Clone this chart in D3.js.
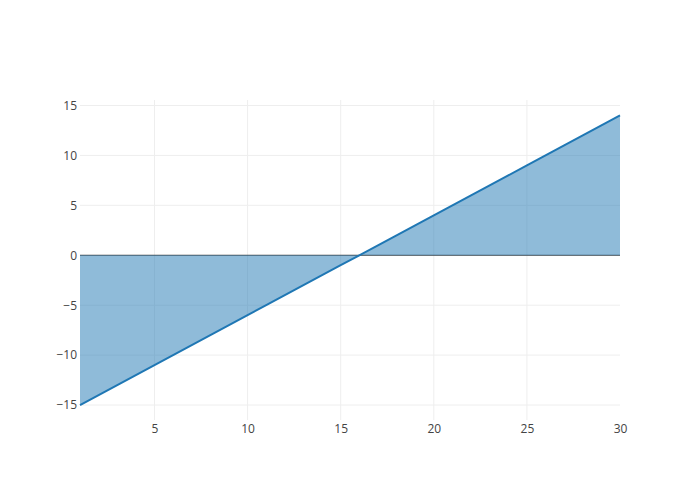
<!DOCTYPE html>
<html><head><meta charset="utf-8">
<script src="https://cdn.jsdelivr.net/npm/d3@7"></script>
<style>body{margin:0;background:#fff}svg{display:block}</style>
</head><body>
<script>
const xValues = [1,2,3,4,5,6,7,8,9,10,11,12,13,14,15,16,17,18,19,20,21,22,23,24,25,26,27,28,29,30];
const yValues = [-15,-14,-13,-12,-11,-10,-9,-8,-7,-6,-5,-4,-3,-2,-1,0,1,2,3,4,5,6,7,8,9,10,11,12,13,14];
const xTicks = [5,10,15,20,25,30];
const yTicks = [-15,-10,-5,0,5,10,15];

const W=700,H=500,m={l:80,r:80,t:100,b:80};
const svg=d3.select("body").append("svg").attr("width",W).attr("height",H);
const x=d3.scaleLinear().domain([1,30]).range([m.l,W-m.r]);
const y=d3.scaleLinear().domain([-16.5,15.55]).range([H-m.b,m.t]);
const data=xValues.map((v,i)=>({x:v,y:yValues[i]}));
const font="'Open Sans', sans-serif";

// grid
svg.append("g").selectAll("line").data(xTicks.filter(t=>t<30)).join("line")
  .attr("x1",d=>x(d)).attr("x2",d=>x(d)).attr("y1",m.t).attr("y2",H-m.b)
  .attr("stroke","#eee").attr("stroke-width",1);
svg.append("g").selectAll("line").data(yTicks.filter(t=>t!==0)).join("line")
  .attr("x1",m.l).attr("x2",W-m.r).attr("y1",d=>y(d)).attr("y2",d=>y(d))
  .attr("stroke","#eee").attr("stroke-width",1);
// zero line
svg.append("line").attr("x1",m.l).attr("x2",W-m.r).attr("y1",y(0)).attr("y2",y(0))
  .attr("stroke","#444").attr("stroke-width",1);

// area
svg.append("path").datum(data)
  .attr("d",d3.area().x(d=>x(d.x)).y0(y(0)).y1(d=>y(d.y)))
  .attr("fill","rgba(31,119,180,0.5)");
svg.append("path").datum(data)
  .attr("d",d3.line().x(d=>x(d.x)).y(d=>y(d.y)))
  .attr("fill","none").attr("stroke","#1f77b4").attr("stroke-width",2);

// axes
const xa=d3.axisBottom(x).tickValues(xTicks).tickSize(0).tickPadding(4);
const gx=svg.append("g").attr("transform",`translate(0,${H-m.b})`).call(xa);
const ya=d3.axisLeft(y).tickValues(yTicks).tickSize(0).tickPadding(3)
  .tickFormat(d=>d<0?"\u2212"+Math.abs(d):d);
const gy=svg.append("g").attr("transform",`translate(${m.l},0)`).call(ya);
[gx,gy].forEach(g=>{g.select(".domain").remove();
  g.selectAll("text").attr("fill","#444").style("font-family",font).style("font-size","12px");});
</script>
</body></html>
